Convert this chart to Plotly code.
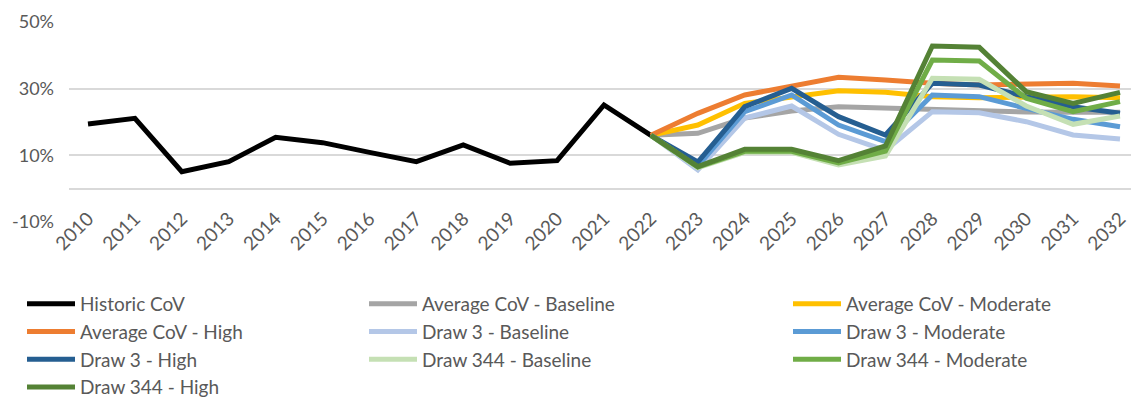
import plotly.graph_objects as go

years = list(range(2010, 2033))
historic = [19.4, 21.1, 5.1, 8.1, 15.4, 13.8, 10.9, 8.1, 13.1, 7.6, 8.4, 25.1, 16.0]
fc_years = list(range(2022, 2033))
avg_base = [16.0, 16.6, 21.2, 23.3, 24.6, 24.2, 23.5, 23.3, 23.0, 22.9, 22.9]
avg_mod = [16.0, 19.1, 25.6, 27.4, 29.4, 28.9, 27.6, 27.3, 27.5, 27.6, 27.3]
avg_high = [16.0, 22.6, 28.1, 30.6, 33.4, 32.6, 31.6, 31.1, 31.3, 31.6, 30.8]
d3_base = [16.0, 5.6, 21.2, 24.8, 16.3, 11.5, 23.1, 22.8, 20.1, 16.1, 14.9]
d3_mod = [16.0, 6.8, 23.1, 28.1, 19.1, 14.1, 28.1, 27.6, 24.1, 20.8, 18.6]
d3_high = [16.0, 8.0, 24.6, 30.1, 21.6, 16.1, 31.6, 31.1, 27.6, 24.6, 22.6]
d344_base = [16.0, 6.3, 10.9, 10.9, 7.1, 9.8, 33.1, 32.8, 24.8, 19.3, 21.8]
d344_mod = [16.0, 6.5, 11.2, 11.2, 7.7, 11.3, 38.6, 38.3, 27.1, 23.1, 26.1]
d344_high = [16.0, 6.6, 11.8, 11.8, 8.4, 12.8, 42.8, 42.4, 29.1, 25.6, 28.9]
y_ticks = [-10, 10, 30, 50]

series = [
    ("Historic CoV", years[:len(historic)], historic, "#000000", "legend"),
    ("Average CoV - Baseline", fc_years, avg_base, "#A5A5A5", "legend2"),
    ("Average CoV - Moderate", fc_years, avg_mod, "#FFC000", "legend3"),
    ("Average CoV - High", fc_years, avg_high, "#ED7D31", "legend"),
    ("Draw 3 - Baseline", fc_years, d3_base, "#B4C7E7", "legend2"),
    ("Draw 3 - Moderate", fc_years, d3_mod, "#5B9BD5", "legend3"),
    ("Draw 3 - High", fc_years, d3_high, "#255E91", "legend"),
    ("Draw 344 - Baseline", fc_years, d344_base, "#C5E0B4", "legend2"),
    ("Draw 344 - Moderate", fc_years, d344_mod, "#70AD47", "legend3"),
    ("Draw 344 - High", fc_years, d344_high, "#548235", "legend"),
]

fig = go.Figure()
for name, xs, ys, color, lg in series:
    fig.add_trace(go.Scatter(x=xs, y=ys, name=name, mode="lines",
                             line=dict(color=color, width=5),
                             legend=lg))

W, H = 1131, 393
font_col = "#595959"
fig.update_layout(
    width=W, height=H,
    margin=dict(l=61, r=0, t=14, b=179, autoexpand=False),
    plot_bgcolor="white", paper_bgcolor="white",
    font=dict(family="Lato", size=19, color=font_col),
    showlegend=True,
    xaxis=dict(range=[2009.595, 2032.405], tickvals=years,
               ticktext=[str(y) for y in years], tickangle=-45,
               showgrid=False, zeroline=False, showline=False, ticks="",
               ticklabelstandoff=-19,
               tickfont=dict(size=19, color=font_col)),
    yaxis=dict(range=[-10, 50], tickvals=y_ticks,
               ticktext=[f"{v}%" for v in y_ticks],
               showgrid=True, gridcolor="#D9D9D9", gridwidth=1.5,
               zeroline=True, zerolinecolor="#D9D9D9", zerolinewidth=1.5,
               showline=False, ticks="", ticklabelstandoff=14,
               tickfont=dict(size=18, color=font_col)),
)
leg_common = dict(orientation="v", xref="container", yref="container",
                  yanchor="top", xanchor="left", bgcolor="rgba(0,0,0,0)",
                  font=dict(family="Lato", size=19, color=font_col),
                  tracegroupgap=0, itemwidth=48)
ly = 1 - 277 / H
fig.update_layout(
    legend=dict(x=14 / W, y=ly, **leg_common),
    legend2=dict(x=356 / W, y=ly, **leg_common),
    legend3=dict(x=780 / W, y=ly, **leg_common),
)

fig.write_html("out.html")
